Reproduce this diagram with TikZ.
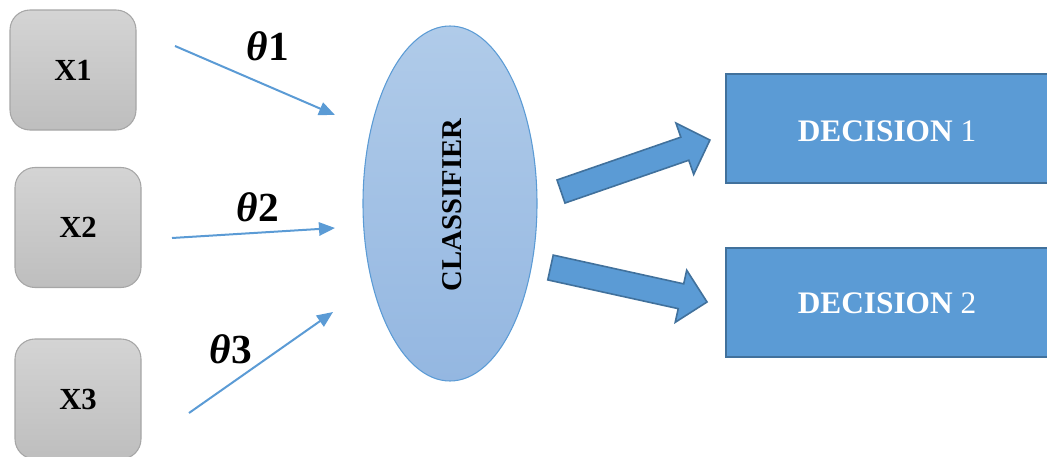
\documentclass[tikz,border=0pt]{standalone}
\usepackage{fontspec}
\setmainfont{Liberation Serif}
\usetikzlibrary{shapes.geometric,arrows.meta,calc}
\definecolor{lineblue}{HTML}{5B9BD5}
\definecolor{boxblue}{HTML}{5B9BD5}
\definecolor{boxedge}{HTML}{41719C}
\definecolor{grayedge}{HTML}{A6A6A6}
\definecolor{graytop}{HTML}{D4D4D4}
\definecolor{graybot}{HTML}{BEBEBE}
\definecolor{elltop}{HTML}{B0CBE9}
\definecolor{ellbot}{HTML}{94B7E1}
\definecolor{elledge}{HTML}{5B9BD5}
\tikzset{
  inbox/.style={draw=grayedge, line width=0.8pt, rounded corners=15pt,
    top color=graytop, bottom color=graybot,
    minimum width=94.5pt, minimum height=90pt,
    font=\fontsize{23}{25}\selectfont\bfseries},
  decbox/.style={draw=boxedge, line width=1.4pt, fill=boxblue,
    minimum width=243pt, minimum height=81.75pt, inner sep=0pt},
  dectext/.style={text=white, font=\fontsize{23.5}{26}\selectfont},
  wire/.style={draw=lineblue, line width=1.5pt,
    -{Triangle[length=12pt,width=10pt]}},
  thetalbl/.style={font=\fontsize{31}{34}\selectfont\bfseries},
  blockarrow/.style={fill=boxblue, draw=boxedge, line width=1.2pt, line join=miter}
}
\newcommand{\thetasym}{{\itshape θ}}
\begin{document}
\begin{tikzpicture}[x=0.75pt,y=-0.75pt]
\useasboundingbox (0,0) rectangle (1047,457);
\clip (0,0) rectangle (1047,457);

% input boxes
\node[inbox] (x1) at (73,70) {X1};
\node[inbox] (x2) at (78,227.5) {X2};
\node[inbox] (x3) at (78,399) {X3};

% classifier
\node[ellipse, draw=elledge, line width=0.8pt, top color=elltop, bottom color=ellbot,
      minimum width=130.5pt, minimum height=266.25pt] (cls) at (450,203.5) {};
\node[rotate=90, font=\fontsize{21.5}{24}\selectfont\bfseries] (clstext) at (452,205) {CLASSIFIER};

% decision boxes
\node[decbox] (d1) at (888,128.5) {};
\node[dectext] (d1t) at (887,131) {\textbf{DECISION} 1};
\node[decbox] (d2) at (888,302.5) {};
\node[dectext] (d2t) at (887,303) {\textbf{DECISION} 2};

% thin weighted arrows
\coordinate (s1) at (175,46);
\coordinate (e1) at (335,115);
\coordinate (s2) at (172,238);
\coordinate (e2) at (335,228);
\coordinate (s3) at (189,413);
\coordinate (e3) at (333,312);
\draw[wire] (s1) -- (e1);
\draw[wire] (s2) -- (e2);
\draw[wire] (s3) -- (e3);
\node[thetalbl] (t1) at (268,46) {\thetasym1};
\node[thetalbl] (t2) at (258,207) {\thetasym2};
\node[thetalbl] (t3) at (231,349) {\thetasym3};

% block arrows
\coordinate (b1) at (561,191.5);
\coordinate (b2) at (550.5,267.5);
\begin{scope}[shift={(b1)}, rotate=19.07]
  \path[blockarrow] (0,-12.2) -- (131,-12.2) -- (131,-27.2) -- (157.6,0)
     -- (131,27.2) -- (131,12.2) -- (0,12.2) -- cycle;
\end{scope}
\begin{scope}[shift={(b2)}, rotate=-12.43]
  \path[blockarrow] (0,-12.7) -- (133.6,-12.7) -- (133.6,-26.7) -- (160.3,0)
     -- (133.6,26.7) -- (133.6,12.7) -- (0,12.7) -- cycle;
\end{scope}
\end{tikzpicture}
\end{document}
